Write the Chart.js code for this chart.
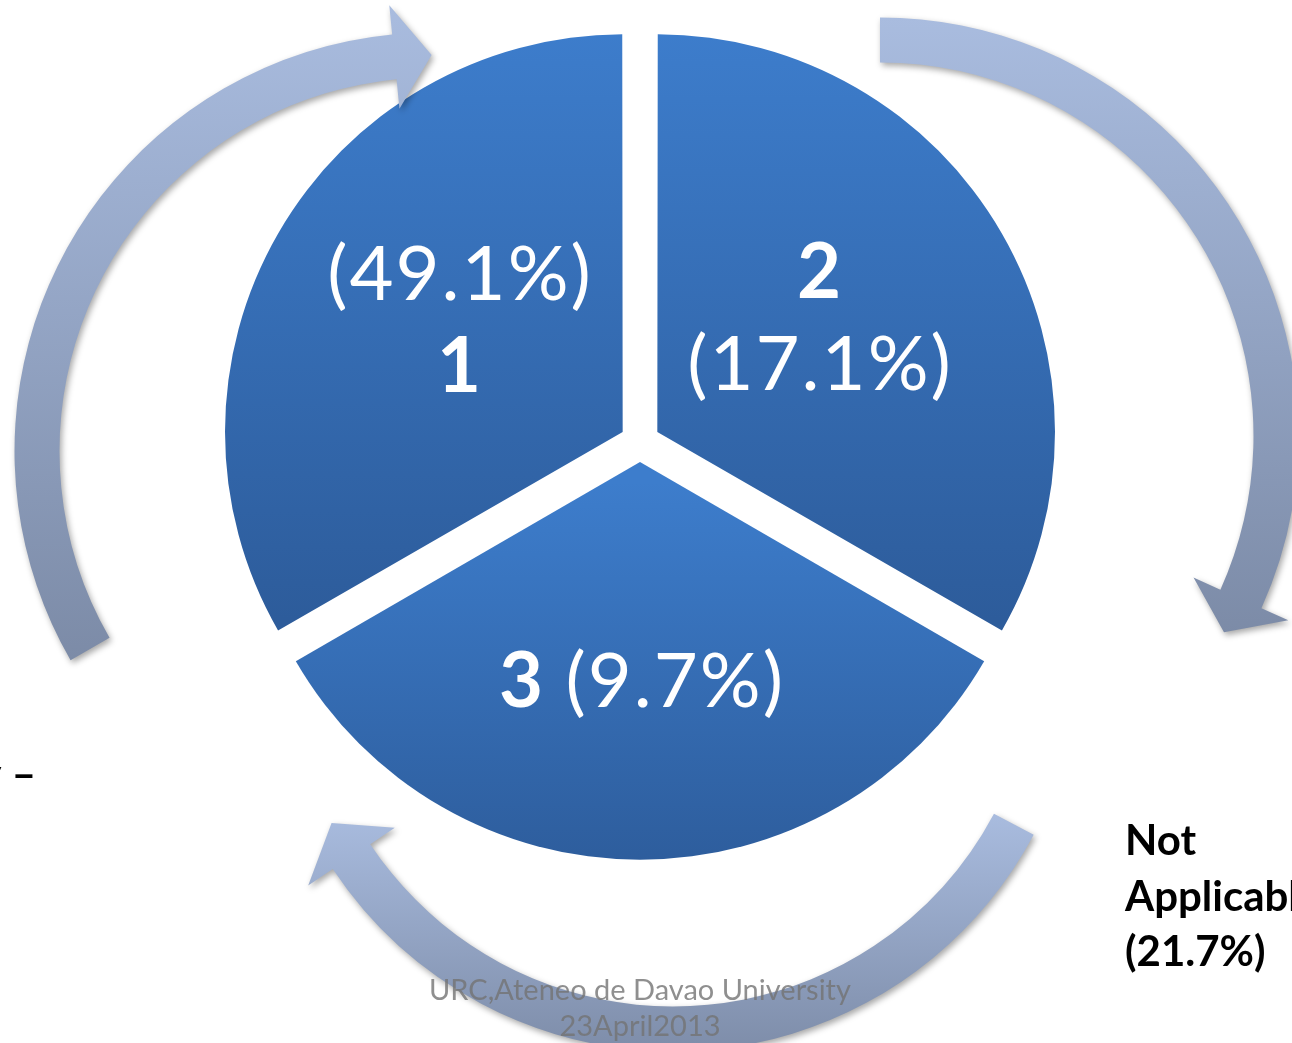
<!DOCTYPE html>
<html><head><meta charset="utf-8">
<script src="https://cdn.jsdelivr.net/npm/chart.js@4.4.0/dist/chart.umd.min.js"></script>
<style>html,body{margin:0;padding:0;background:#fff;overflow:hidden}#wrap{width:1292px;height:1043px;position:relative}</style>
</head><body><div id="wrap"><canvas id="c" width="1292" height="1043"></canvas></div>
<script>
const categories = ['1', '2', '3'];
const segmentSizes = [1, 1, 1];
const percentages = [49.1, 17.1, 9.7];
const outsideLines = ['Not', 'Applicable'];
const notApplicablePct = 21.7;
const leftFragment = 'y \u2013';
const watermarkLines = ['URC,Ateneo de Davao University', '23April2013'];

const FONT = 'Lato, "Open Sans", sans-serif';
const R = 395;

function arrowPath(ctx, cx, cy, r, w, hw, a0, a1, tipDeg) {
  const d = Math.PI / 180;
  const A0 = a0 * d, A1 = a1 * d, AT = (a1 + tipDeg) * d;
  ctx.beginPath();
  ctx.arc(cx, cy, r + w, A0, A1, false);
  ctx.lineTo(cx + (r + hw) * Math.cos(A1), cy + (r + hw) * Math.sin(A1));
  ctx.lineTo(cx + r * Math.cos(AT), cy + r * Math.sin(AT));
  ctx.lineTo(cx + (r - hw) * Math.cos(A1), cy + (r - hw) * Math.sin(A1));
  ctx.arc(cx, cy, r - w, A1, A0, true);
  ctx.closePath();
}

const decor = {
  id: 'decor',
  afterDatasetsDraw(chart) {
    const ctx = chart.ctx;
    const arc = chart.getDatasetMeta(0).data[0];
    const cx = arc.x, cy = arc.y;
    const arrows = [
      {dx: -207, dy: 9, r: 396, a0: 150, a1: 264.4, tip: 5.4, top: 5, bot: 660},
      {dx: 240, dy: -6, r: 396, a0: 270, a1: 384.3, tip: 5.4, top: 17, bot: 635},
      {dx: 33, dy: 201, r: 386, a0: 28, a1: 146.4, tip: 5.8, top: 813, bot: 1060}
    ];
    arrows.forEach(a => {
      ctx.save();
      const g = ctx.createLinearGradient(0, a.top, 0, a.bot);
      g.addColorStop(0, '#A9BCDF');
      g.addColorStop(1, '#7C8BA7');
      ctx.fillStyle = g;
      ctx.shadowColor = 'rgba(0,0,0,0.35)';
      ctx.shadowBlur = 6;
      ctx.shadowOffsetX = 2;
      ctx.shadowOffsetY = 3;
      arrowPath(ctx, cx + a.dx, cy + a.dy, a.r, 22.5, 52, a.a0, a.a1, a.tip);
      ctx.fill();
      ctx.restore();
    });

    ctx.save();
    ctx.fillStyle = '#FFFFFF';
    ctx.textAlign = 'center';
    ctx.textBaseline = 'alphabetic';
    try { ctx.letterSpacing = '2px'; } catch (e) {}
    const reg = '76px ' + FONT, bold = 'bold 76px ' + FONT;
    ctx.font = reg;
    ctx.fillText('(' + percentages[0].toFixed(1) + '%)', cx - 180, cy - 142);
    ctx.font = bold;
    ctx.fillText(categories[0], cx - 180, cy - 50);
    ctx.font = bold;
    ctx.fillText(categories[1], cx + 180, cy - 144);
    ctx.font = reg;
    ctx.fillText('(' + percentages[1].toFixed(1) + '%)', cx + 180, cy - 52);
    ctx.textAlign = 'left';
    const p1 = categories[2] + ' ', p2 = '(' + percentages[2].toFixed(1) + '%)';
    ctx.font = bold; const w1 = ctx.measureText(p1).width;
    ctx.font = reg; const w2 = ctx.measureText(p2).width;
    const x0 = cx + 2 - (w1 + w2) / 2;
    ctx.font = bold; ctx.fillText(p1, x0, cy + 265);
    ctx.font = reg; ctx.fillText(p2, x0 + w1, cy + 265);
    ctx.restore();

    ctx.save();
    ctx.fillStyle = '#000000';
    ctx.font = 'bold 42px ' + FONT;
    ctx.textAlign = 'left';
    ctx.fillText(outsideLines[0], 1125, 855);
    ctx.fillText(outsideLines[1], 1125, 911);
    ctx.fillText('(' + notApplicablePct.toFixed(1) + '%)', 1125, 966);
    ctx.textAlign = 'right';
    ctx.fillText(leftFragment, 36, 789);
    ctx.restore();

    ctx.save();
    ctx.fillStyle = 'rgba(115,115,115,0.8)';
    ctx.font = '29px ' + FONT;
    ctx.textAlign = 'center';
    ctx.fillText(watermarkLines[0], 640, 1000);
    ctx.fillText(watermarkLines[1], 640, 1036);
    ctx.restore();
  }
};

new Chart(document.getElementById('c'), {
  type: 'pie',
  data: {
    labels: categories,
    datasets: [{
      data: segmentSizes,
      borderWidth: 0,
      offset: 80,
      hoverOffset: 0,
      backgroundColor: (c) => {
        const chart = c.chart, ca = chart.chartArea;
        if (!ca) return '#3A72BC';
        const cy = (ca.top + ca.bottom) / 2;
        let y0, y1;
        if (c.dataIndex < 2) { y0 = cy - 10 - R; y1 = cy - 10 + R * 0.5; }
        else { y0 = cy + 20; y1 = cy + 20 + R; }
        const g = chart.ctx.createLinearGradient(0, y0, 0, y1);
        g.addColorStop(0, '#3D7DCC');
        g.addColorStop(1, '#2D5C9B');
        return g;
      }
    }]
  },
  options: {
    responsive: false,
    animation: false,
    rotation: -120,
    radius: R,
    layout: {padding: {left: 0, right: 12, top: 0, bottom: 159}},
    plugins: {legend: {display: false}, tooltip: {enabled: false}}
  },
  plugins: [decor]
});
</script>
</body></html>
